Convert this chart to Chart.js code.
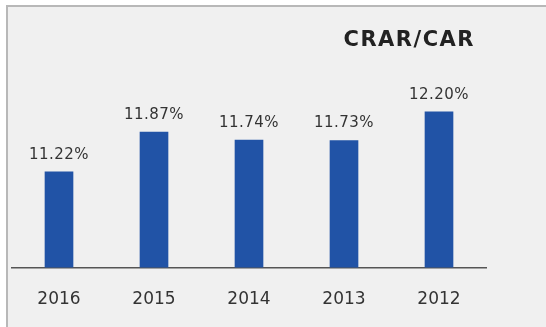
<!DOCTYPE html>
<html>
<head>
<meta charset="utf-8">
<script src="https://cdn.jsdelivr.net/npm/chart.js@4/dist/chart.umd.min.js"></script>
<style>
  html, body { margin: 0; padding: 0; background: #fff; overflow: hidden; }
  #frame {
    position: absolute; left: 6px; top: 5px; right: 0; bottom: 0;
    background: #f0f0f0;
    border-left: 2px solid #b8b8b8;
    border-top: 2px solid #b8b8b8;
  }
  #chart { position: absolute; left: 0; top: 0; }
</style>
</head>
<body>
<div id="frame"></div>
<canvas id="chart" width="546" height="327"></canvas>
<script>
const years = ['2016', '2015', '2014', '2013', '2012'];
const crar = [11.22, 11.87, 11.74, 11.73, 12.20];
const chartTitle = 'CRAR/CAR';

// value labels above each bar plus the title in the top-right corner
const barLabels = {
  id: 'barLabels',
  afterDatasetsDraw(chart) {
    const ctx = chart.ctx;
    const meta = chart.getDatasetMeta(0);
    ctx.save();
    ctx.fillStyle = '#333';
    ctx.font = '15px "DejaVu Sans"';
    ctx.letterSpacing = '0.5px';
    ctx.textAlign = 'center';
    ctx.textBaseline = 'middle';
    meta.data.forEach((bar, i) => {
      ctx.fillText(crar[i].toFixed(2) + '%', bar.x, bar.y - 17);
    });
    ctx.font = 'bold 21px "DejaVu Sans"';
    ctx.letterSpacing = '1.5px';
    ctx.fillStyle = '#222';
    ctx.textAlign = 'right';
    ctx.fillText(chartTitle, 475, 41);
    ctx.restore();
  }
};

const ctx = document.getElementById('chart').getContext('2d');
new Chart(ctx, {
  type: 'bar',
  data: {
    labels: years,
    datasets: [{
      data: crar,
      backgroundColor: '#2153a6',
      barThickness: 28
    }]
  },
  options: {
    responsive: false,
    animation: false,
    layout: { padding: { left: 11.5, right: 59.5, top: 60, bottom: -5 } },
    plugins: {
      legend: { display: false },
      tooltip: { enabled: false }
    },
    scales: {
      x: {
        grid: { display: false, drawTicks: false },
        border: { display: true, color: '#555', width: 1.5 },
        ticks: {
          padding: 22,
          color: '#333',
          font: { family: 'DejaVu Sans', size: 17 }
        }
      },
      y: {
        display: false,
        min: 9.65,
        max: 13.05
      }
    }
  },
  plugins: [barLabels]
});
</script>
</body>
</html>
